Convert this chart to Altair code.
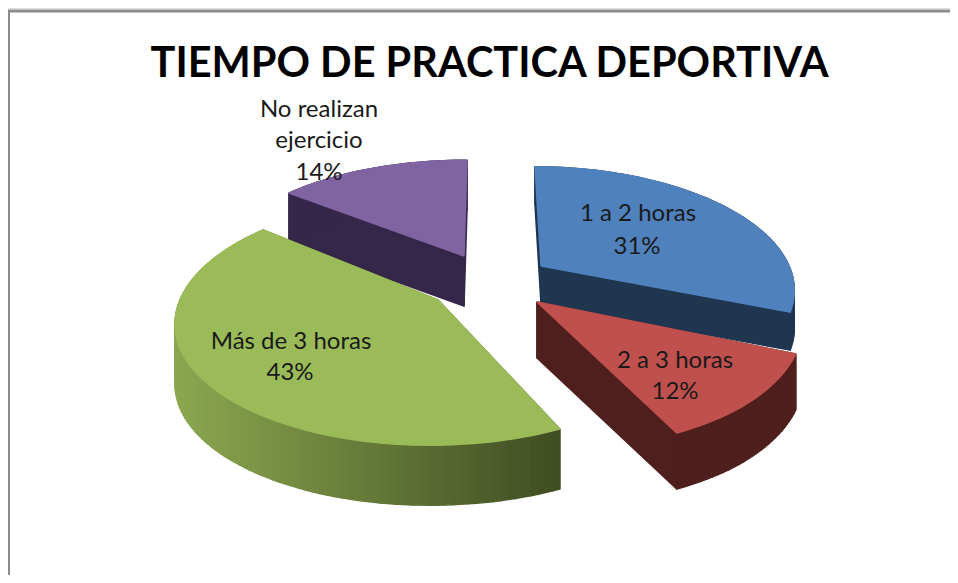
import math
import altair as alt
import pandas as pd

TITLE = "TIEMPO DE PRACTICA DEPORTIVA"
categories = ["1  a 2 horas", "2 a 3 horas", "Más de 3 horas", "No realizan ejercicio"]
values = [31, 12, 43, 14]

# layout of the drawing (page pixels): apex x, apex y, a, b, perspective k, shear, wall depth
GEOM = {
    0: (541, 266, 248, 117, 0.18, 6, 38),
    1: (537, 302, 264, 139, 0.044, 25, 56),
    2: (438, 300, 258, 121.4, 0.164, -8, 60),
    3: (464, 256, 242, 104, 0.085, -3, 50),
}
TOP = ["#4f81bd", "#c0504d", "#9bbb59", "#8064a2"]
WALL = ["#1f3550", "#4f1f1d", None, "#35274a"]
GREEN_L, GREEN_R = (0x8c, 0xa8, 0x50), (0x3f, 0x4c, 0x22)
DRAW_ORDER = [3, 0, 1, 2]
LABELS = {
    0: [("1  a 2 horas", 638, 214), ("{}%", 637, 247)],
    1: [("2 a 3 horas", 675, 361), ("{}%", 675, 392)],
    2: [("Más de 3 horas", 291, 342), ("{}%", 290, 373)],
    3: [("No realizan", 319, 110), ("ejercicio", 319, 141), ("{}%", 319, 173)],
}
W, H = 942, 567


def proj(g, phi):
    ax, ay, a, b, k, sh, _ = g
    u, s = math.sin(phi), -math.cos(phi)
    w = 1 - k * s
    return ax + a * u / w + sh * s, ay + b * s / w


def green_at(x):
    t = min(1, max(0, (x - 173) / (560 - 173)))
    return "#%02x%02x%02x" % tuple(round(p + (q - p) * t) for p, q in zip(GREEN_L, GREEN_R))


rows = []
pid = 0


def poly(pts, color):
    global pid
    for i, (x, y) in enumerate(pts):
        rows.append({"x": x, "y": y, "poly": pid, "i": i, "c": color})
    pid += 1


total = sum(values)
starts = [sum(values[:i]) / total * 2 * math.pi for i in range(len(values))]
for idx in DRAW_ORDER:
    g = GEOM[idx]
    d = g[6]
    p0, p1 = starts[idx], starts[idx] + values[idx] / total * 2 * math.pi
    n = max(8, int((p1 - p0) / math.radians(1.5)))
    arc = [proj(g, p0 + (p1 - p0) * j / n) for j in range(n + 1)]
    outline = [(g[0], g[1])] + arc + [(g[0], g[1])]
    for (x0, y0), (x1, y1) in zip(outline[:-1], outline[1:]):
        col = WALL[idx] or green_at((x0 + x1) / 2)
        poly([(x0, y0), (x1, y1), (x1, y1 + d), (x0, y0 + d), (x0, y0)], col)
    poly(outline, TOP[idx])

df = pd.DataFrame(rows)
xs = alt.Scale(domain=[8, 8 + W])
ys = alt.Scale(domain=[8, 8 + H], reverse=True)
X = alt.X("x:Q", scale=xs, axis=None)
Y = alt.Y("y:Q", scale=ys, axis=None)

faces = (
    alt.Chart(df)
    .mark_line(strokeWidth=1.5, strokeJoin="round", clip=True)
    .encode(
        x=X, y=Y, detail="poly:N", order="i:Q",
        fill=alt.Fill("c:N", scale=None), stroke=alt.Stroke("c:N", scale=None),
    )
)

text_rows = []
for idx, lines in LABELS.items():
    for t, x, y in lines:
        text_rows.append({"x": x, "y": y, "t": t.format(values[idx])})
labels = (
    alt.Chart(pd.DataFrame(text_rows))
    .mark_text(font="Lato", fontSize=24, color="#1a1a1a", align="center", baseline="middle")
    .encode(x=X, y=Y, text="t:N")
)
title = (
    alt.Chart(pd.DataFrame([{"x": 489.5, "y": 65, "t": TITLE}]))
    .mark_text(font="Lato", fontWeight="bold", fontSize=41.5, color="#000000", align="center", baseline="middle")
    .encode(x=X, y=Y, text="t:N")
)
frame_top = (
    alt.Chart(pd.DataFrame([{"x": 8, "x2": 8 + W, "y": 11}]))
    .mark_rule(color="#8c8c8c", strokeWidth=3)
    .encode(x=X, x2="x2:Q", y=Y)
)
frame_left = (
    alt.Chart(pd.DataFrame([{"x": 9, "y": 11, "y2": 8 + H}]))
    .mark_rule(color="#8c8c8c", strokeWidth=2)
    .encode(x=X, y=Y, y2="y2:Q")
)

chart = (
    alt.layer(frame_top, frame_left, faces, labels, title)
    .properties(width=W, height=H, padding=0, autosize=alt.AutoSizeParams(type="none"))
    .configure_view(stroke=None)
    .configure(background="white")
)
chart.save("out.html", embed_options={"renderer": "svg", "actions": False})
